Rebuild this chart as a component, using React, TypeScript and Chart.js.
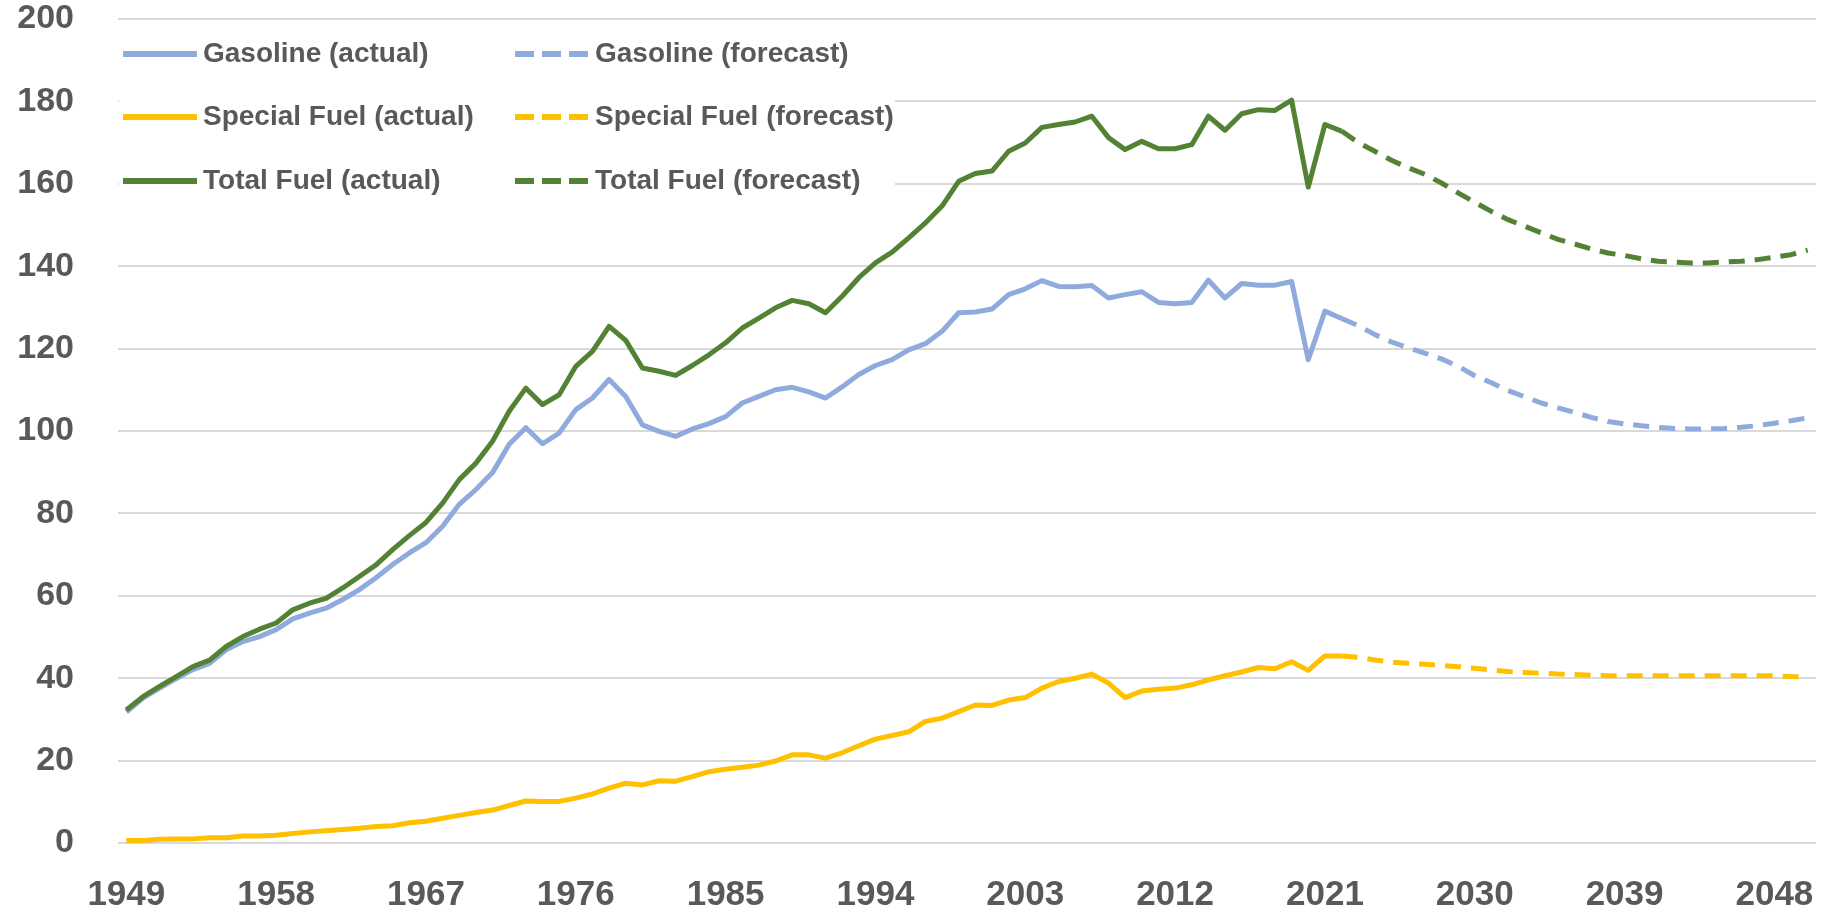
import React, { useEffect, useRef } from 'react';
import { Chart, registerables } from 'chart.js';

Chart.register(...registerables);

const YEARS: number[] = [
  1949, 1950, 1951, 1952, 1953, 1954, 1955, 1956, 1957, 1958,
  1959, 1960, 1961, 1962, 1963, 1964, 1965, 1966, 1967, 1968,
  1969, 1970, 1971, 1972, 1973, 1974, 1975, 1976, 1977, 1978,
  1979, 1980, 1981, 1982, 1983, 1984, 1985, 1986, 1987, 1988,
  1989, 1990, 1991, 1992, 1993, 1994, 1995, 1996, 1997, 1998,
  1999, 2000, 2001, 2002, 2003, 2004, 2005, 2006, 2007, 2008,
  2009, 2010, 2011, 2012, 2013, 2014, 2015, 2016, 2017, 2018,
  2019, 2020, 2021, 2022, 2023, 2024, 2025, 2026, 2027, 2028,
  2029, 2030, 2031, 2032, 2033, 2034, 2035, 2036, 2037, 2038,
  2039, 2040, 2041, 2042, 2043, 2044, 2045, 2046, 2047, 2048,
  2049, 2050,
];

const TICK_LABELS: string[] = ['1949', '1958', '1967', '1976', '1985', '1994', '2003', '2012', '2021', '2030', '2039', '2048'];

const ACTUAL_START = 1949;
const FORECAST_START = 2022;

// 1949–2022
const gasolineActual: number[] = [
  31.8, 35.2, 37.6, 39.9, 42.1, 43.6, 46.9, 48.9, 50.1, 51.8,
  54.4, 55.8, 57.0, 59.1, 61.5, 64.4, 67.6, 70.4, 72.9, 76.9,
  82.2, 85.8, 89.9, 96.8, 100.8, 96.9, 99.5, 105.2, 108.0, 112.5,
  108.4, 101.5, 99.9, 98.7, 100.5, 101.8, 103.5, 106.8, 108.4, 110.0,
  110.6, 109.5, 108.0, 110.7, 113.7, 115.9, 117.3, 119.7, 121.2, 124.2,
  128.7, 128.9, 129.6, 133.1, 134.5, 136.5, 135.1, 135.0, 135.3, 132.3,
  133.1, 133.8, 131.2, 130.9, 131.2, 136.6, 132.3, 135.8, 135.4, 135.4,
  136.3, 117.3, 129.1, 127.3,
];
// 2022–2050
const gasolineForecast: number[] = [
  127.3, 125.6, 123.4, 121.6, 120.2, 118.9, 117.5, 115.7, 113.4, 111.7,
  109.8, 108.3, 106.8, 105.6, 104.5, 103.3, 102.3, 101.7, 101.3, 100.9,
  100.6, 100.5, 100.5, 100.6, 100.9, 101.3, 101.9, 102.5, 103.2,
];

const specialActual: number[] = [
  0.6, 0.6, 0.9, 1.0, 1.0, 1.3, 1.3, 1.7, 1.7, 1.9,
  2.3, 2.7, 3.0, 3.3, 3.6, 4.0, 4.2, 4.9, 5.3, 6.0,
  6.7, 7.4, 8.0, 9.1, 10.2, 10.1, 10.1, 10.9, 11.9, 13.3,
  14.5, 14.1, 15.1, 15.0, 16.1, 17.3, 17.9, 18.4, 18.9, 19.9,
  21.4, 21.4, 20.6, 21.9, 23.6, 25.2, 26.1, 27.0, 29.5, 30.3,
  31.9, 33.5, 33.4, 34.7, 35.3, 37.6, 39.2, 40.0, 41.0, 38.8,
  35.3, 36.9, 37.3, 37.6, 38.4, 39.6, 40.6, 41.5, 42.6, 42.3,
  44.0, 41.9, 45.4, 45.4,
];
const specialForecast: number[] = [
  45.4, 45.1, 44.4, 43.9, 43.6, 43.4, 43.1, 42.8, 42.4, 42.0,
  41.6, 41.4, 41.2, 41.0, 40.9, 40.7, 40.6, 40.6, 40.6, 40.6,
  40.6, 40.6, 40.6, 40.6, 40.6, 40.6, 40.6, 40.4, 40.3,
];

const totalActual: number[] = [
  32.3, 35.5, 38.0, 40.4, 42.8, 44.4, 47.7, 50.1, 51.9, 53.4,
  56.6, 58.2, 59.4, 61.9, 64.7, 67.5, 71.2, 74.6, 77.8, 82.5,
  88.2, 92.2, 97.5, 104.8, 110.4, 106.4, 108.8, 115.7, 119.3, 125.4,
  122.0, 115.3, 114.5, 113.5, 115.9, 118.5, 121.4, 125.0, 127.4, 129.9,
  131.7, 130.9, 128.7, 132.7, 137.2, 140.8, 143.4, 146.9, 150.5, 154.6,
  160.6, 162.5, 163.1, 167.9, 169.9, 173.7, 174.4, 175.0, 176.4, 171.2,
  168.3, 170.3, 168.5, 168.5, 169.5, 176.4, 173.0, 177.0, 178.0, 177.8,
  180.3, 159.2, 174.4, 172.8,
];
const totalForecast: number[] = [
  172.8, 170.0, 167.9, 165.7, 163.9, 162.3, 160.2, 157.8, 155.5, 153.3,
  151.3, 149.7, 148.1, 146.5, 145.4, 144.2, 143.2, 142.6, 141.8, 141.2,
  141.0, 140.8, 140.8, 141.0, 141.2, 141.6, 142.2, 142.8, 143.9,
];

const SERIES_NAMES: string[] = [
  'Gasoline (actual)', 'Gasoline (forecast)',
  'Special Fuel (actual)', 'Special Fuel (forecast)',
  'Total Fuel (actual)', 'Total Fuel (forecast)',
];

const BLUE = '#8FAADC';
const GOLD = '#FFC000';
const GREEN = '#548235';
const TEXT = '#595959';
const FONT_FAMILY = "'Liberation Sans', Arial, sans-serif";

function pad(values: number[], startYear: number): (number | null)[] {
  const offset = YEARS.indexOf(startYear);
  return YEARS.map((_, i) => {
    const j = i - offset;
    return j >= 0 && j < values.length ? values[j] : null;
  });
}

const legendPlugin = {
  id: 'gridLegend',
  beforeDatasetsDraw(chart: any) {
    const ctx = chart.ctx as CanvasRenderingContext2D;
    const area = chart.chartArea;
    ctx.save();
    ctx.fillStyle = '#ffffff';
    ctx.fillRect(area.left + 1, 28, 776, 180);
    const rows = [54, 117, 181];
    const colors = [BLUE, GOLD, GREEN];
    const cols = [
      { x0: 123, x1: 197, tx: 203, dash: [] as number[] },
      { x0: 515, x1: 588, tx: 595, dash: [19, 8] },
    ];
    ctx.font = `bold 28px ${FONT_FAMILY}`;
    ctx.textBaseline = 'middle';
    ctx.textAlign = 'left';
    rows.forEach((y, r) => {
      cols.forEach((c, k) => {
        ctx.beginPath();
        ctx.setLineDash(c.dash);
        ctx.lineWidth = 6;
        ctx.lineCap = 'butt';
        ctx.strokeStyle = colors[r];
        ctx.moveTo(c.x0, y);
        ctx.lineTo(c.x1, y);
        ctx.stroke();
        ctx.setLineDash([]);
        ctx.fillStyle = TEXT;
        ctx.fillText(SERIES_NAMES[r * 2 + k], c.tx, y);
      });
    });
    ctx.restore();
  },
};

export default function App() {
  const ref = useRef<HTMLCanvasElement>(null);

  useEffect(() => {
    document.body.style.margin = '0';
    const canvas = ref.current;
    if (!canvas) return;

    const mk = (label: string, data: (number | null)[], color: string, dashed: boolean, order: number) => ({
      label,
      data,
      borderColor: color,
      backgroundColor: color,
      borderWidth: 5,
      borderDash: dashed ? [16, 10] : [],
      borderJoinStyle: 'round' as const,
      borderCapStyle: 'butt' as const,
      pointRadius: 0,
      pointHoverRadius: 0,
      tension: 0,
      fill: false,
      spanGaps: false,
      order,
    });

    const chart = new Chart(canvas, {
      type: 'line',
      data: {
        labels: YEARS.map(String),
        datasets: [
          mk(SERIES_NAMES[0], pad(gasolineActual, ACTUAL_START), BLUE, false, 6),
          mk(SERIES_NAMES[1], pad(gasolineForecast, FORECAST_START), BLUE, true, 5),
          mk(SERIES_NAMES[2], pad(specialActual, ACTUAL_START), GOLD, false, 4),
          mk(SERIES_NAMES[3], pad(specialForecast, FORECAST_START), GOLD, true, 3),
          mk(SERIES_NAMES[4], pad(totalActual, ACTUAL_START), GREEN, false, 2),
          mk(SERIES_NAMES[5], pad(totalForecast, FORECAST_START), GREEN, true, 1),
        ],
      },
      options: {
        responsive: false,
        animation: false,
        devicePixelRatio: 1,
        layout: {
          autoPadding: false,
          padding: { left: 0, right: 11, top: 19, bottom: 0 },
        },
        plugins: {
          legend: { display: false },
          title: { display: false },
          subtitle: { display: false },
          tooltip: { enabled: false },
        },
        scales: {
          x: {
            type: 'category',
            offset: true,
            grid: { display: false, drawTicks: false },
            border: { display: false },
            ticks: {
              autoSkip: false,
              maxRotation: 0,
              minRotation: 0,
              padding: 31,
              color: TEXT,
              font: { family: FONT_FAMILY, size: 35, weight: 'bold' },
              callback: function (this: any, _v: any, index: number) {
                const lab = String(YEARS[index]);
                return TICK_LABELS.includes(lab) ? lab : '';
              },
            },
            afterFit: (scale: any) => {
              scale.height = 70;
              scale.paddingLeft = 0;
              scale.paddingRight = 0;
            },
          },
          y: {
            min: 0,
            max: 200,
            grid: { color: '#D9D9D9', lineWidth: 2, drawTicks: false },
            border: { display: false },
            ticks: {
              stepSize: 20,
              padding: 44,
              color: TEXT,
              font: { family: FONT_FAMILY, size: 34, weight: 'bold' },
            },
            afterFit: (scale: any) => {
              scale.width = 118;
              scale.paddingTop = 0;
              scale.paddingBottom = 0;
            },
          },
        },
      },
      plugins: [legendPlugin],
    });

    return () => chart.destroy();
  }, []);

  return (
    <div style={{ position: 'absolute', left: 0, top: 0, width: 1827, height: 913, background: '#ffffff' }}>
      <canvas ref={ref} width={1827} height={913} style={{ display: 'block', width: 1827, height: 913 }} />
    </div>
  );
}
